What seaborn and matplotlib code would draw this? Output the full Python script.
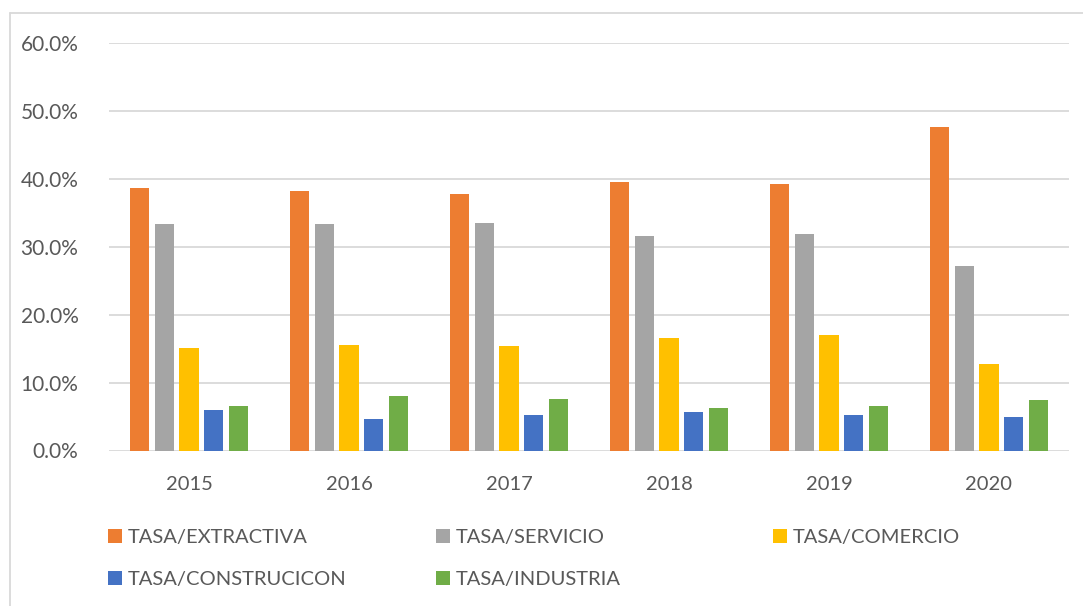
import numpy as np
import pandas as pd
import matplotlib
matplotlib.use("Agg")
import matplotlib.pyplot as plt
import seaborn as sns
from matplotlib.patches import Patch
from matplotlib.lines import Line2D
from matplotlib.ticker import FuncFormatter

years = ["2015", "2016", "2017", "2018", "2019", "2020"]
series = ["TASA/EXTRACTIVA", "TASA/SERVICIO", "TASA/COMERCIO", "TASA/CONSTRUCICON", "TASA/INDUSTRIA"]
extractiva = [38.7, 38.2, 37.8, 39.6, 39.2, 47.7]
servicio = [33.3, 33.4, 33.5, 31.6, 31.9, 27.2]
comercio = [15.1, 15.6, 15.4, 16.5, 17.0, 12.7]
construccion = [6.0, 4.7, 5.2, 5.7, 5.2, 5.0]
industria = [6.6, 8.0, 7.6, 6.3, 6.5, 7.4]
colors = ["#ED7D31", "#A5A5A5", "#FFC000", "#4472C4", "#70AD47"]

values = [extractiva, servicio, comercio, construccion, industria]
rows = []
for s, vals in zip(series, values):
    for y, v in zip(years, vals):
        rows.append({"year": y, "series": s, "value": v / 100.0})
df = pd.DataFrame(rows)

sns.set_theme(style="white")
FONT = "Lato"
plt.rcParams["font.family"] = [FONT, "DejaVu Sans"]
TXT = "#595959"

W, H = 1083, 606
fig = plt.figure(figsize=(W / 100, H / 100), dpi=100)
ax = fig.add_axes([109 / W, 1 - 450.5 / H, (1069 - 109) / W, (450.5 - 43) / H])

palette = dict(zip(series, colors))
sns.barplot(data=df, x="year", y="value", hue="series", hue_order=series,
            order=years, palette=palette, width=0.775, gap=0.23,
            legend=False, ax=ax, saturation=1, edgecolor="none", linewidth=0, zorder=3)

ax.set_ylim(0, 0.6)
ax.set_yticks(np.arange(0, 0.61, 0.1))
ax.yaxis.set_major_formatter(FuncFormatter(lambda v, p: f"{v*100:.1f}%"))
ax.grid(axis="y", color="#D9D9D9", linewidth=1.3, zorder=0)
ax.grid(axis="x", visible=False)
for sp in ax.spines.values():
    sp.set_visible(False)
ax.tick_params(axis="y", length=0, pad=22, labelsize=15, labelcolor=TXT)
ax.tick_params(axis="x", length=0, pad=18, labelsize=14.5, labelcolor=TXT)
ax.set_xlabel("")
ax.set_ylabel("")

# figure border (chart frame)
fig.add_artist(Line2D([10 / W, 10 / W], [0, 1 - 13 / H], transform=fig.transFigure,
                      color="#D9D9D9", linewidth=1.3))
fig.add_artist(Line2D([10 / W, 1], [1 - 13 / H, 1 - 13 / H], transform=fig.transFigure,
                      color="#D9D9D9", linewidth=1.3))

handles = {s: Patch(facecolor=c, edgecolor="none") for s, c in zip(series, colors)}
columns = [(108, ["TASA/EXTRACTIVA", "TASA/CONSTRUCICON"]),
           (436, ["TASA/SERVICIO", "TASA/INDUSTRIA"]),
           (773, ["TASA/COMERCIO"])]
for x, labs in columns:
    fig.legend([handles[l] for l in labs], labs, loc="upper left",
               bbox_to_anchor=(x / W, 1 - 529 / H), frameon=False,
               borderpad=0, borderaxespad=0, handlelength=0.7, handleheight=0.7,
               handletextpad=0.3, labelspacing=1.25, fontsize=14.5, labelcolor=TXT)

fig.savefig("out.png", dpi=100, facecolor="white")
